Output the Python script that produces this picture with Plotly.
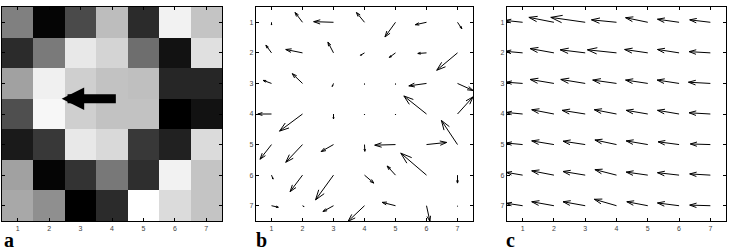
import numpy as np
import plotly.graph_objects as go

W, H = 730, 252

grid = [1, 2, 3, 4, 5, 6, 7]
tick_labels = ["1", "2", "3", "4", "5", "6", "7"]
panel_labels = ["a", "b", "c"]

# panel a: grey levels (0 = black, 1 = white), rows y=1..7 (top to bottom)
intensity = [
    [0.50, 0.02, 0.29, 0.74, 0.17, 0.95, 0.77],
    [0.17, 0.48, 0.91, 0.83, 0.43, 0.07, 0.88],
    [0.63, 0.94, 0.81, 0.76, 0.75, 0.15, 0.15],
    [0.31, 0.97, 0.81, 0.76, 0.76, 0.00, 0.07],
    [0.10, 0.22, 0.91, 0.85, 0.22, 0.13, 0.86],
    [0.63, 0.02, 0.20, 0.47, 0.18, 0.95, 0.77],
    [0.66, 0.56, 0.00, 0.17, 1.00, 0.86, 0.77],
]
big_arrow_tail = [4.17, 3.5]
big_arrow_head = [2.40, 3.5]

# panel b: displacement field (u along x, v along y; y grows downward)
b_u = [
    [0.00, -0.24, -0.64, -0.26, -0.34, -0.36, 0.14],
    [-0.18, -0.54, -0.18, -0.13, -0.20, -0.28, -0.67],
    [-0.27, -0.33, -0.04, 0.00, 0.00, -0.57, 0.50],
    [-0.44, -0.74, 0.00, 0.00, 0.00, -0.73, 0.50],
    [-0.37, -0.54, -0.40, 0.01, -0.67, 0.65, -0.52],
    [0.05, -0.40, -0.58, 0.30, -0.27, -0.83, 0.00],
    [0.22, 0.05, -0.34, -0.53, -0.43, 0.11, 0.00],
]
b_v = [
    [0.09, -0.32, -0.02, -0.32, 0.48, 0.08, 0.21],
    [-0.25, -0.11, -0.35, 0.08, 0.15, 0.02, 0.57],
    [-0.10, -0.32, 0.10, 0.03, 0.03, 0.08, 0.23],
    [0.00, 0.56, 0.16, 0.03, 0.03, -0.59, -0.56],
    [0.48, 0.58, 0.23, 0.22, 0.02, -0.07, -0.79],
    [0.13, 0.54, 0.81, 0.26, -0.30, -0.72, 0.26],
    [0.05, 0.03, 0.19, 0.51, -0.11, 0.51, 0.02],
]

# panel c: nearly uniform leftward field
c_u = [
    [-0.55, -0.80, -1.10, -0.80, -0.71, -0.69, -0.66],
    [-0.55, -0.76, -0.80, -0.93, -0.74, -0.69, -0.68],
    [-0.52, -0.76, -0.78, -0.76, -0.71, -0.70, -0.70],
    [-0.52, -0.71, -0.74, -0.71, -0.69, -0.69, -0.68],
    [-0.52, -0.71, -0.71, -0.69, -0.69, -0.67, -0.64],
    [-0.52, -0.71, -0.71, -0.69, -0.69, -0.69, -0.66],
    [-0.52, -0.71, -0.71, -0.71, -0.67, -0.69, -0.66],
]
c_v = [
    [-0.06, -0.16, -0.16, -0.08, -0.15, -0.10, -0.08],
    [-0.05, -0.14, -0.10, -0.10, -0.11, -0.11, -0.04],
    [-0.04, -0.13, -0.13, -0.11, -0.11, -0.11, -0.04],
    [-0.05, -0.14, -0.12, -0.14, -0.12, -0.12, -0.04],
    [-0.05, -0.12, -0.11, -0.15, -0.12, -0.09, -0.02],
    [-0.09, -0.14, -0.12, -0.18, -0.10, -0.08, -0.04],
    [-0.08, -0.13, -0.13, -0.21, -0.13, -0.09, -0.02],
]


def quiver_lines(u, v, alpha=0.33, beta=0.33):
    xs, ys = [], []
    for r, y in enumerate(grid):
        for c, x in enumerate(grid):
            du, dv = u[r][c], v[r][c]
            tx, ty = x + du, y + dv
            xs += [x, tx, None]
            ys += [y, ty, None]
            if abs(du) + abs(dv) < 1e-9:
                continue
            xs += [tx - alpha * (du + beta * dv), tx, tx - alpha * (du - beta * dv), None]
            ys += [ty - alpha * (dv - beta * du), ty, ty - alpha * (dv + beta * du), None]
    return xs, ys


fig = go.Figure()

fig.add_trace(go.Heatmap(z=intensity, x=grid, y=grid, zmin=0, zmax=1,
                         colorscale=[[0, "black"], [1, "white"]],
                         showscale=False, xaxis="x", yaxis="y", hoverinfo="skip"))

for (u, v), ax_name, ay_name in [((b_u, b_v), "x2", "y2"), ((c_u, c_v), "x3", "y3")]:
    qx, qy = quiver_lines(u, v)
    fig.add_trace(go.Scatter(x=qx, y=qy, mode="lines",
                             line=dict(color="black", width=1),
                             xaxis=ax_name, yaxis=ay_name, showlegend=False,
                             hoverinfo="skip"))

fig.add_annotation(x=big_arrow_head[0], y=big_arrow_head[1],
                   ax=big_arrow_tail[0], ay=big_arrow_tail[1],
                   xref="x", yref="y", axref="x", ayref="y",
                   text="", showarrow=True, arrowhead=2, arrowwidth=9,
                   arrowsize=0.5, arrowcolor="black", standoff=0, startstandoff=0)

x_domains = [[2 / W, 222 / W], [256 / W, 473 / W], [507 / W, 726 / W]]
y_domain = [(H - 221) / H, (H - 7) / H]

axis_common = dict(showgrid=False, zeroline=False, showline=True, linecolor="black",
                   linewidth=1.3, mirror="ticks", ticks="inside", ticklen=3,
                   tickwidth=1, tickcolor="black", tickvals=grid, ticktext=tick_labels,
                   tickfont=dict(family="Liberation Sans", size=7, color="#444"))

layout = dict(width=W, height=H, margin=dict(l=0, r=0, t=0, b=0),
              paper_bgcolor="white", plot_bgcolor="white", showlegend=False)
for i, name in enumerate(["", "2", "3"]):
    layout["xaxis" + name] = dict(axis_common, domain=x_domains[i], range=[0.5, 7.5],
                                  anchor="y" + name)
    layout["yaxis" + name] = dict(axis_common, domain=y_domain, range=[7.5, 0.5],
                                  anchor="x" + name, showticklabels=(i > 0),
                                  ticklabelstandoff=0)
fig.update_layout(**layout)

label_x = [3 / W, 255 / W, 505 / W]
for lbl, lx in zip(panel_labels, label_x):
    fig.add_annotation(x=lx, y=0, xref="paper", yref="paper", xanchor="left",
                       yanchor="bottom", text="<b>" + lbl + "</b>", showarrow=False,
                       borderpad=0, font=dict(family="Liberation Serif", size=20, color="black"))

fig.write_html("out.html")
